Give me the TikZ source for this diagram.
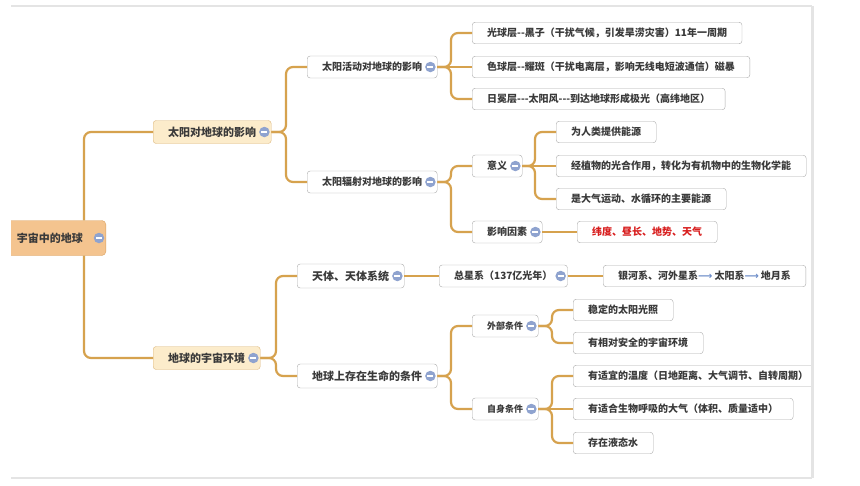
\documentclass[tikz,border=0pt]{standalone}
\usepackage{fontspec}
\newfontfamily\cjk{Noto Sans CJK SC}
\newfontfamily\symfont{DejaVu Sans}
\usepackage{tikz}
\usetikzlibrary{positioning,calc}
\definecolor{lk}{HTML}{D6A24E}
\definecolor{rootfill}{HTML}{F4C48F}
\definecolor{rootline}{HTML}{D9A160}
\definecolor{topfill}{HTML}{FCECCB}
\definecolor{topline}{HTML}{DDB77E}
\definecolor{boxline}{HTML}{ABABAB}
\definecolor{ic}{HTML}{8FA3CF}
\definecolor{tx}{HTML}{3A3A3A}
\definecolor{hot}{HTML}{D81E1E}
\definecolor{arr}{HTML}{6C8CC8}
\definecolor{frameline}{HTML}{E4E4E4}
\newcommand{\nextarr}{{\color{arr}\symfont\bfseries ⟶}\hspace{2pt}}

\begin{document}
\begin{tikzpicture}[
  x=1pt,y=-1pt,
  every node/.style={text=tx,inner ysep=0pt},
  root/.style={rectangle,draw=rootline,fill=rootfill,rounded corners=4,minimum height=35,inner xsep=23,font=\cjk\bfseries\fontsize{11}{13}\selectfont,anchor=east},
  main/.style={rectangle,draw=topline,fill=topfill,rounded corners=3,minimum height=23,inner xsep=15,font=\cjk\bfseries\fontsize{11}{13}\selectfont,anchor=west},
  sub/.style={rectangle,draw=boxline,fill=white,rounded corners=3,minimum height=22,inner xsep=15,font=\cjk\bfseries\fontsize{10}{12}\selectfont,anchor=west},
  leaf/.style={sub,minimum height=21.5},
  foldmark/.style={circle,fill=ic,inner sep=0,minimum size=10.5,path picture={\draw[white,line width=1.8] ([xshift=-3]path picture bounding box.center) -- ([xshift=3]path picture bounding box.center);}},
  fold/.style={append after command={node[foldmark] at ([xshift=-7]\tikzlastnode.east) {}}},
  link/.style={draw=lk,line width=2.2,rounded corners=7}
]
\useasboundingbox[fill=white] (0,0) rectangle (860,485);

\begin{scope}
\clip (11,0) rectangle (811,485);

% root and first level
\node[root,fold] (earth) at (106,238) {宇宙中的地球};
\node[main,fold] (sun) at (153,132) {太阳对地球的影响};
\node[main,fold] (env) at (153,358) {地球的宇宙环境};

% sun branch
\node[sub,fold] (act) at (307,67) {太阳活动对地球的影响};
\node[sub,fold] (rad) at (307,182) {太阳辐射对地球的影响};
\node[leaf] (photo) at (472,33) {光球层--黑子（干扰气候，引发旱涝灾害）11年一周期};
\node[leaf] (chromo) at (472,67) {色球层--耀斑（干扰电离层，影响无线电短波通信）磁暴};
\node[leaf] (corona) at (472,99) {日冕层---太阳风---到达地球形成极光（高纬地区）};
\node[sub,fold] (use) at (472,166) {意义};
\node[sub,fold] (cause) at (472,232) {影响因素};
\node[leaf] (energy) at (556,132) {为人类提供能源};
\node[leaf] (plant) at (556,166) {经植物的光合作用，转化为有机物中的生物化学能};
\node[leaf] (drive) at (556,199) {是大气运动、水循环的主要能源};
\node[leaf,text=hot] (factors) at (577,232) {纬度、昼长、地势、天气};

% environment branch
\node[sub,fold,minimum height=24,font=\cjk\bfseries\fontsize{11}{13}\selectfont] (body) at (297,276) {天体、天体系统};
\node[sub,fold,minimum height=24,font=\cjk\bfseries\fontsize{11}{13}\selectfont] (life) at (297,376) {地球上存在生命的条件};
\node[sub,fold] (cosmos) at (439,276) {总星系（137亿光年）};
\node[leaf] (chain) at (603,276) {银河系、河外星系\nextarr 太阳系\nextarr 地月系};
\node[sub,fold,font=\cjk\bfseries\fontsize{9}{11}\selectfont] (outer) at (472,326) {外部条件};
\node[sub,fold,font=\cjk\bfseries\fontsize{9}{11}\selectfont] (inner) at (472,409) {自身条件};
\node[leaf] (light) at (573,310) {稳定的太阳光照};
\node[leaf] (safe) at (573,343) {有相对安全的宇宙环境};
\node[leaf] (temp) at (573,376) {有适宜的温度（日地距离、大气调节、自转周期）};
\node[leaf] (air) at (573,409) {有适合生物呼吸的大气（体积、质量适中）};
\node[leaf] (water) at (573,443) {存在液态水};

% connectors
\begin{scope}[on background layer/.try]
\draw[link] ([xshift=-22]earth.north east) |- (sun.west);
\draw[link] ([xshift=-22]earth.south east) |- (env.west);
\foreach \c in {act,rad} \draw[link] (sun.east) -| ([xshift=-21]\c.west) -- (\c.west);
\foreach \c in {photo,corona} \draw[link] (act.east) -| ([xshift=-21]\c.west) -- (\c.west);
\draw[link] (act.east) -- (chromo.west);
\foreach \c in {use,cause} \draw[link] (rad.east) -| ([xshift=-21]\c.west) -- (\c.west);
\foreach \c in {energy,drive} \draw[link] (use.east) -| ([xshift=-21]\c.west) -- (\c.west);
\draw[link] (use.east) -- (plant.west);
\draw[link] (cause.east) -- (factors.west);
\foreach \c in {body,life} \draw[link] (env.east) -| ([xshift=-21]\c.west) -- (\c.west);
\draw[link] (body.east) -- (cosmos.west);
\draw[link] (cosmos.east) -- (chain.west);
\foreach \c in {outer,inner} \draw[link] (life.east) -| ([xshift=-21]\c.west) -- (\c.west);
\foreach \c in {light,safe} \draw[link] (outer.east) -| ([xshift=-21]\c.west) -- (\c.west);
\foreach \c in {temp,water} \draw[link] (inner.east) -| ([xshift=-21]\c.west) -- (\c.west);
\draw[link] (inner.east) -- (air.west);
\end{scope}
\end{scope}

% screenshot frame
\draw[frameline,line width=2] (11,6) -- (812,6);
\draw[frameline,line width=3] (812,6) -- (812,478);
\draw[frameline,line width=2] (11,478) -- (812,478);
\end{tikzpicture}
\end{document}
